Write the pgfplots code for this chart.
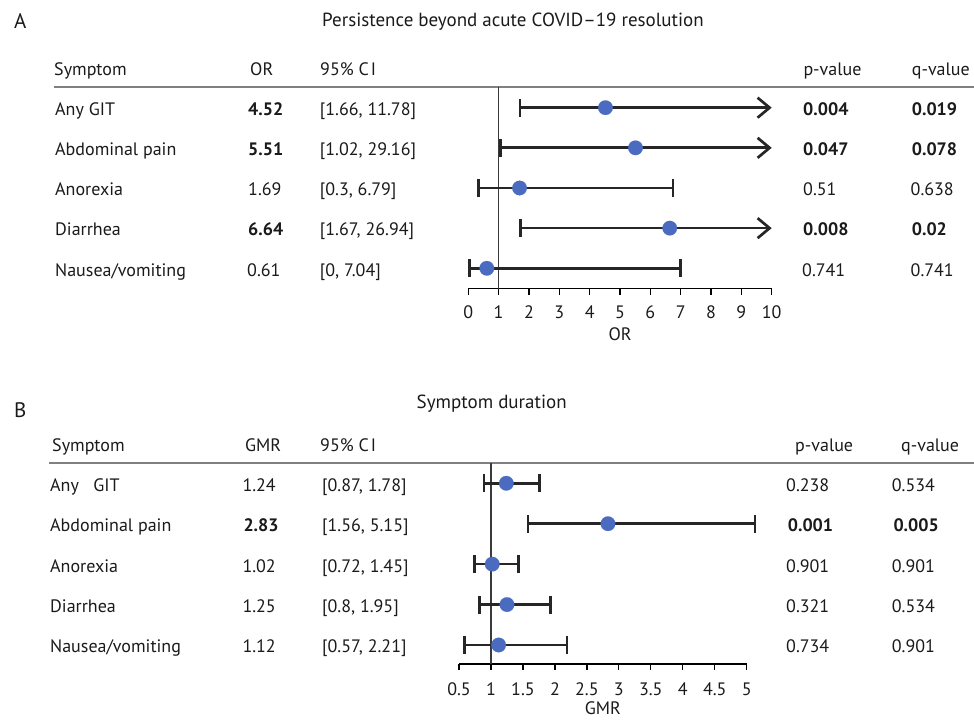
\documentclass[border=0pt]{standalone}
\usepackage{pgfplots}
\pgfplotsset{compat=1.18}
\usetikzlibrary{arrows.meta}
\usepackage{fontspec}
\setmainfont{PT Sans}
\definecolor{dotblue}{HTML}{4A6BBF}
\definecolor{cibar}{HTML}{262626}
\definecolor{txt}{HTML}{1A1A1A}
\definecolor{rulec}{HTML}{808080}
\definecolor{refc}{HTML}{3A3A3A}
\pgfplotsset{forest/.style={
  scale only axis, clip=false,
  axis x line*=bottom, axis y line=none,
  ytick=\empty,
  tick align=outside, major tick length=6bp,
  x axis line style={line width=1.3bp, black},
  tick style={line width=1.3bp, black},
  xlabel style={at={(axis description cs:0.5,0)}, anchor=base, inner sep=0pt},
  /pgf/number format/assume math mode=true,
}}
\tikzset{cib/.style={cibar, line width=2.7bp}}
\begin{document}
\fontsize{18bp}{22bp}\selectfont
\begin{tikzpicture}[x=1bp,y=1bp, every node/.style={text=txt}]
\path[use as bounding box] (0,0) rectangle (974,720);
% ---------------- Panel A ----------------
\node[anchor=base west, inner sep=0, font=\fontsize{21bp}{24bp}\selectfont] at (14,691.7) {A};
\node[anchor=base, inner sep=0, font=\fontsize{19bp}{22bp}\selectfont] at (513,693.3) {Persistence beyond acute COVID–19 resolution};
\begin{scope}[every node/.append style={anchor=base west, inner sep=0}]
\node at (54,644) {Symptom};
\node at (250,644) {OR};
\node at (320,644) {95\% C\kern2bp I};
\node at (803.3,644) {p-value};
\node at (911.7,644) {q-value};
\draw[rulec, line width=1.8bp] (54,632.7) -- (974,632.7);
% rows
\node at (55,604) {Any GIT};
\node at (55,564) {Abdominal pain};
\node at (55,524) {Anorexia};
\node at (55,484) {Diarrhea};
\node at (55,443.5) {Nausea/vomiting};
\node at (248,604) {\textbf{4.52}};
\node at (248,564) {\textbf{5.51}};
\node at (248,524) {1.69};
\node at (248,484) {\textbf{6.64}};
\node at (247,443.5) {0.61};
\node at (319.7,604) {[1.66, 11.78]};
\node at (319.7,564) {[1.02, 29.16]};
\node at (319.7,524) {[0.3, 6.79]};
\node at (319.7,484) {[1.67, 26.94]};
\node at (319.7,443.5) {[0, 7.04]};
\node at (803,604) {\textbf{0.004}};
\node at (803,564) {\textbf{0.047}};
\node at (803,524) {0.51};
\node at (803,484) {\textbf{0.008}};
\node at (802,443.5) {0.741};
\node at (911.7,604) {\textbf{0.019}};
\node at (911.7,564) {\textbf{0.078}};
\node at (910.5,524) {0.638};
\node at (911.7,484) {\textbf{0.02}};
\node at (910.5,443.5) {0.741};
\end{scope}
\begin{axis}[forest, at={(468.3bp,431.3bp)}, anchor=south west,
  width=303.4bp, height=201.4bp,
  xmin=0, xmax=10, ymin=-0.508, ymax=4.508,
  xtick={0,1,...,10},
  xticklabel style={anchor=base, yshift=-23.5bp, inner sep=0pt},
  xlabel style={yshift=-52bp},
  xlabel={OR}]
\addplot[refc, line width=1.4bp] coordinates {(1,-0.508) (1,4.508)};
\addplot[cib, {Bar[width=18bp]}-{Straight Barb[length=12bp,width=20bp]}] coordinates {(1.66,4) (10,4)};
\addplot[cib, {Bar[width=18bp]}-{Straight Barb[length=12bp,width=20bp]}] coordinates {(1.02,3) (10,3)};
\addplot[cib, {Bar[width=18bp]}-{Bar[width=18bp]}] coordinates {(0.3,2) (6.79,2)};
\addplot[cib, {Bar[width=18bp]}-{Straight Barb[length=12bp,width=20bp]}] coordinates {(1.67,1) (10,1)};
\addplot[cib, {Bar[width=18bp]}-{Bar[width=18bp]}] coordinates {(0,0) (7.04,0)};
\addplot[only marks, mark=*, mark size=7.3bp, color=dotblue, mark options={fill=dotblue, draw=dotblue, line width=0.1bp}] coordinates {(4.52,4) (5.51,3) (1.69,2) (6.64,1) (0.61,0)};
\end{axis}
% ---------------- Panel B ----------------
\node[anchor=base west, inner sep=0, font=\fontsize{21bp}{24bp}\selectfont] at (14,302.7) {B};
\node[anchor=base, inner sep=0, font=\fontsize{19bp}{22bp}\selectfont] at (491.7,311) {Symptom duration};
\begin{scope}[every node/.append style={anchor=base west, inner sep=0}]
\node at (52,268) {Symptom};
\node at (245,268) {GMR};
\node at (320,268) {95\% C\kern2bp I};
\node at (795,268) {p-value};
\node at (901,268) {q-value};
\draw[rulec, line width=1.8bp] (49,256.7) -- (974,256.7);
\node at (50,228.3) {Any\ \ \ GIT};
\node at (50,188) {Abdominal pain};
\node at (50,147.7) {Anorexia};
\node at (50,107.5) {Diarrhea};
\node at (50,67) {Nausea/vomiting};
\node at (242.3,228.3) {1.24};
\node at (243.3,188) {\textbf{2.83}};
\node at (242.3,147.7) {1.02};
\node at (242.3,107.5) {1.25};
\node at (242.3,67) {1.12};
\node at (322,228.3) {[0.87, 1.78]};
\node at (322,188) {[1.56, 5.15]};
\node at (322,147.7) {[0.72, 1.45]};
\node at (322,107.5) {[0.8, 1.95]};
\node at (322,67) {[0.57, 2.21]};
\node at (786,228.3) {0.238};
\node at (787.7,188) {\textbf{0.001}};
\node at (786,147.7) {0.901};
\node at (786,107.5) {0.321};
\node at (786,67) {0.734};
\node at (891.7,228.3) {0.534};
\node at (893.3,188) {\textbf{0.005}};
\node at (891.7,147.7) {0.901};
\node at (891.7,107.5) {0.534};
\node at (891.7,67) {0.901};
\end{scope}
\begin{axis}[forest, at={(459bp,56bp)}, anchor=south west,
  width=287.7bp, height=200.7bp,
  xmin=0.5, xmax=5, ymin=-0.47, ymax=4.494,
  xtick={0.5,1,1.5,2,2.5,3,3.5,4,4.5,5},
  xticklabels={0.5,1,1.5,2,2.5,3,3.5,4,4.5,5},
  xticklabel style={anchor=base, yshift=-25.5bp, inner sep=0pt},
  xlabel style={yshift=-50.5bp},
  xlabel={GMR}]
\addplot[refc, line width=1.4bp] coordinates {(1,-0.47) (1,4.494)};
\addplot[cib, {Bar[width=18bp]}-{Bar[width=18bp]}] coordinates {(0.87,4) (1.78,4)};
\addplot[cib, {Bar[width=18bp]}-{Bar[width=18bp]}] coordinates {(1.56,3) (5.15,3)};
\addplot[cib, {Bar[width=18bp]}-{Bar[width=18bp]}] coordinates {(0.72,2) (1.45,2)};
\addplot[cib, {Bar[width=18bp]}-{Bar[width=18bp]}] coordinates {(0.8,1) (1.95,1)};
\addplot[cib, {Bar[width=18bp]}-{Bar[width=18bp]}] coordinates {(0.57,0) (2.21,0)};
\addplot[only marks, mark=*, mark size=7.3bp, color=dotblue, mark options={fill=dotblue, draw=dotblue, line width=0.1bp}] coordinates {(1.24,4) (2.83,3) (1.02,2) (1.25,1) (1.12,0)};
\end{axis}
\end{tikzpicture}
\end{document}
